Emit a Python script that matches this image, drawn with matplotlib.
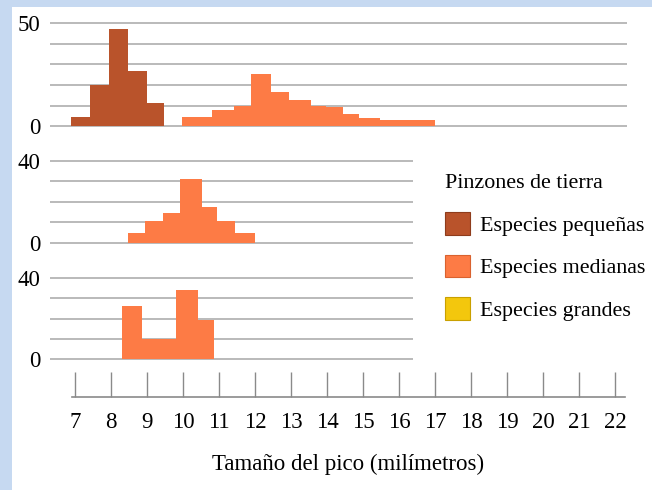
import matplotlib
matplotlib.use('agg')
import matplotlib.pyplot as plt
from matplotlib.patches import Patch, Rectangle
import numpy as np

# --- data (beak size in mm, number of birds) ---
small_edges = [6.9, 7.42, 7.95, 8.47, 8.99, 9.48]
small_counts = [4.5, 20, 47, 27, 11.5]

med1_edges = [9.98, 10.8, 11.42, 11.89, 12.44, 12.95, 13.56, 13.97, 14.45, 14.9, 15.47, 17.0]
med1_counts = [4.5, 7.7, 10, 25.6, 16.7, 12.6, 9.7, 9.2, 6, 4, 3.2]

med2_edges = [8.46, 8.94, 9.45, 9.92, 10.52, 10.94, 11.44, 12.0]
med2_counts = [4.6, 10.6, 14.6, 30.9, 17.6, 10.6, 4.6]

med3_edges = [8.3, 8.85, 9.8, 10.41, 10.87]
med3_counts = [26.4, 9.9, 34.2, 19.3]

x_ticks = list(range(7, 23))
legend_title = "Pinzones de tierra"
legend_labels = ["Especies pequeñas", "Especies medianas", "Especies grandes"]
colors = ["#b9532b", "#fd7b45", "#f3c70d"]
edge_colors = ["#8e3c1c", "#d9622f", "#c9a000"]

W, H = 652, 490
FONT = ["Liberation Serif", "DejaVu Serif"]
plt.rcParams['font.family'] = FONT
FS = 16.5
LEG_FS = 15.8
GRID = "#b4b4b4"

# pixel mapping of the x scale: 7 mm at px 75, 36 px per mm
X0_PX, PX_PER_MM = 75.0, 36.0


def px2mm(px):
    return 7 + (px - X0_PX) / PX_PER_MM


def panel(fig, left_px, right_px, y0_px, ytop_px, top_val, step):
    per = (y0_px - ytop_px) / top_val
    pad = 1.0
    bottom_px = y0_px + pad * per
    top_px = ytop_px - pad * per
    ax = fig.add_axes([left_px / W, 1 - bottom_px / H,
                       (right_px - left_px) / W, (bottom_px - top_px) / H])
    ax.set_xlim(px2mm(left_px), px2mm(right_px))
    ax.set_ylim(-pad, top_val + pad)
    ax.patch.set_alpha(0)
    for s in ax.spines.values():
        s.set_visible(False)
    ax.set_xticks([])
    yt = np.arange(0, top_val + 1, step)
    ax.set_yticks(yt)
    ax.set_yticklabels(["0"] + [""] * (len(yt) - 2) + [str(top_val)])
    ax.tick_params(axis='y', length=0, pad=7, labelsize=FS)
    ax.grid(axis='y', color=GRID, linewidth=1.3)
    ax.set_axisbelow(True)
    return ax


fig = plt.figure(figsize=(W / 100, H / 100), dpi=100)
fig.patch.set_facecolor("#c6d9f1")
fig.add_artist(Rectangle((12 / W, 0), 1, 1 - 7 / H, transform=fig.transFigure,
                         facecolor="white", edgecolor="none", zorder=0))

ax1 = panel(fig, 50, 627, 126.3, 23.3, 50, 10)
ax1.stairs(small_counts, small_edges, fill=True, color=colors[0], zorder=3)
ax1.stairs(med1_counts, med1_edges, fill=True, color=colors[1], zorder=3)

ax2 = panel(fig, 50, 413, 242.7, 160.7, 40, 10)
ax2.stairs(med2_counts, med2_edges, fill=True, color=colors[1], zorder=3)

ax3 = panel(fig, 50, 413, 359.0, 278.3, 40, 10)
ax3.stairs(med3_counts, med3_edges, fill=True, color=colors[1], zorder=3)

# bottom scale
axx = fig.add_axes([72 / W, 1 - 397 / H, (625 - 72) / W, 30 / H])
axx.set_xlim(px2mm(72), px2mm(625))
axx.patch.set_alpha(0)
for k in ["top", "left", "right"]:
    axx.spines[k].set_visible(False)
axx.spines["bottom"].set_color("#8a8a8a")
axx.spines["bottom"].set_linewidth(1.2)
axx.set_yticks([])
axx.set_xticks(x_ticks)
axx.tick_params(axis='x', direction='in', length=18, width=1.0, color="#8a8a8a",
                pad=11, labelsize=FS)
axx.set_xlabel("Tamaño del pico (milímetros)", fontsize=FS, labelpad=15)

handles = [Patch(facecolor=c, edgecolor=e, linewidth=0.8) for c, e in zip(colors, edge_colors)]
leg = fig.legend(handles, legend_labels, title=legend_title, loc="upper left",
                 bbox_to_anchor=(441 / W, 1 - 170 / H), frameon=False,
                 fontsize=LEG_FS, title_fontsize=LEG_FS, alignment="left",
                 handlelength=1.1, handleheight=1.2, handletextpad=0.5,
                 labelspacing=0.86, borderaxespad=0, borderpad=0.2)

fig.savefig("out.png", dpi=100)
